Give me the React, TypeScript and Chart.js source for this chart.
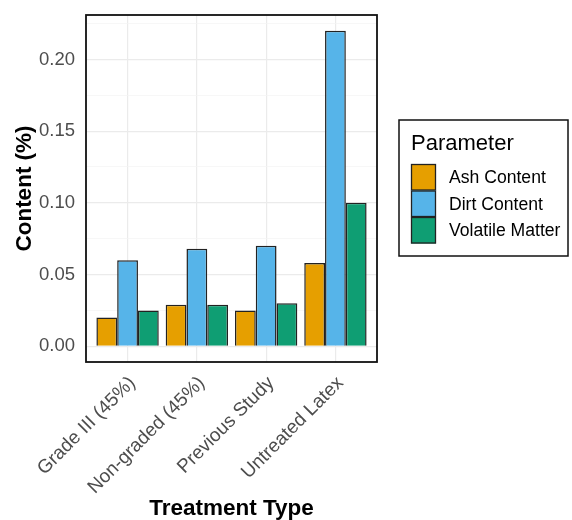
import React, { useEffect, useRef } from "react";
import { Chart, registerables } from "chart.js";

Chart.register(...registerables);

const categories = ["Grade III (45%)", "Non-graded (45%)", "Previous Study", "Untreated Latex"];
const ashContent = [0.02, 0.029, 0.025, 0.058];
const dirtContent = [0.06, 0.068, 0.07, 0.22];
const volatileMatter = [0.025, 0.029, 0.03, 0.1];
const seriesNames = ["Ash Content", "Dirt Content", "Volatile Matter"];
const seriesColors = ["#E69F00", "#56B4E9", "#0F9E73"];
const yTickValues = [0, 0.025, 0.05, 0.075, 0.1, 0.125, 0.15, 0.175, 0.2, 0.225];
const yLabelValues = [0, 0.05, 0.1, 0.15, 0.2];
const legendTitle = "Parameter";
const xTitle = "Treatment Type";
const yTitle = "Content (%)";

const FONT = "'Liberation Sans', Arial, Helvetica, sans-serif";

const isMajorY = (v: number) => yLabelValues.some((m) => Math.abs(m - v) < 1e-9);

const panelBorder = {
  id: "panelBorder",
  afterDatasetsDraw(chart: any) {
    const { ctx, chartArea } = chart;
    ctx.save();
    ctx.strokeStyle = "#111111";
    ctx.lineWidth = 1.8;
    ctx.strokeRect(chartArea.left, chartArea.top, chartArea.right - chartArea.left, chartArea.bottom - chartArea.top);
    ctx.restore();
  },
};

const customLegend = {
  id: "customLegend",
  afterDraw(chart: any) {
    const { ctx } = chart;
    ctx.save();
    ctx.strokeStyle = "#111111";
    ctx.lineWidth = 1.5;
    ctx.strokeRect(399, 120, 169, 136);
    ctx.fillStyle = "#000000";
    ctx.font = `22px ${FONT}`;
    ctx.textAlign = "left";
    ctx.textBaseline = "alphabetic";
    ctx.fillText(legendTitle, 411, 150);
    const keyX = 411;
    const keyW = 25;
    const keyH = 26.5;
    const startY = 164;
    seriesNames.forEach((name, i) => {
      const y = startY + i * keyH;
      ctx.fillStyle = seriesColors[i];
      ctx.fillRect(keyX, y, keyW, keyH);
      ctx.strokeStyle = "#222222";
      ctx.lineWidth = 1.3;
      ctx.strokeRect(keyX + 0.5, y + 0.5, keyW - 1, keyH - 1);
      ctx.fillStyle = "#000000";
      ctx.font = `17.6px ${FONT}`;
      ctx.textBaseline = "middle";
      ctx.fillText(name, 449, y + keyH / 2 + 1);
    });
    ctx.restore();
  },
};

export default function App() {
  const canvasRef = useRef<HTMLCanvasElement | null>(null);

  useEffect(() => {
    const canvas = canvasRef.current;
    if (!canvas) return;
    const seriesValues = [ashContent, dirtContent, volatileMatter];
    const chart = new Chart(canvas, {
      type: "bar",
      data: {
        datasets: seriesNames.map((name, s) => ({
          label: name,
          data: categories.map((_, i) => ({ x: i + 1, y: seriesValues[s][i] })),
          backgroundColor: seriesColors[s],
          borderColor: "#222222",
          borderWidth: 1.5,
          categoryPercentage: 0.9,
          barPercentage: 1.0,
        })),
      },
      options: {
        animation: false,
        responsive: true,
        maintainAspectRatio: false,
        layout: { padding: { top: 15, right: 195, left: 0, bottom: 0 } },
        plugins: {
          legend: { display: false },
          tooltip: { enabled: false },
        },
        scales: {
          x: {
            type: "linear",
            offset: false,
            min: 0.4,
            max: 4.6,
            afterBuildTicks: (scale: any) => {
              scale.ticks = categories.map((_, i) => ({ value: i + 1 }));
            },
            afterFit: (scale: any) => {
              scale.height = 158;
              scale.paddingLeft = 0;
              scale.paddingRight = 0;
            },
            grid: { color: "#EBEBEB", lineWidth: 1.2, drawTicks: false, offset: false },
            border: { display: false },
            ticks: {
              autoSkip: false,
              minRotation: 45,
              maxRotation: 45,
              padding: 10,
              labelOffset: 5,
              color: "#4D4D4D",
              font: { family: FONT, size: 19 },
              callback: (value: any) => categories[Math.round(Number(value)) - 1] ?? "",
            },
            title: {
              display: true,
              text: xTitle,
              color: "#000000",
              font: { family: FONT, size: 22.5, weight: "bold", lineHeight: 1 },
              padding: { top: 0, bottom: 0 },
            },
          },
          y: {
            type: "linear",
            min: -0.011,
            max: 0.231,
            afterBuildTicks: (scale: any) => {
              scale.ticks = yTickValues.map((v) => ({ value: v }));
            },
            afterFit: (scale: any) => {
              scale.width = 86;
              scale.paddingTop = 0;
              scale.paddingBottom = 0;
            },
            grid: {
              drawTicks: false,
              color: (ctx: any) => (ctx.tick && isMajorY(ctx.tick.value) ? "#EBEBEB" : "#F3F3F3"),
              lineWidth: (ctx: any) => (ctx.tick && isMajorY(ctx.tick.value) ? 1.2 : 0.7),
            },
            border: { display: false },
            ticks: {
              padding: 11,
              color: "#4D4D4D",
              font: { family: FONT, size: 18.5 },
              callback: (value: any) => (isMajorY(Number(value)) ? Number(value).toFixed(2) : ""),
            },
            title: {
              display: true,
              text: yTitle,
              color: "#000000",
              font: { family: FONT, size: 22.5, weight: "bold", lineHeight: 1 },
              padding: { top: 13.5, bottom: 0 },
            },
          },
        },
      } as any,
      plugins: [panelBorder, customLegend],
    });
    return () => chart.destroy();
  }, []);

  return (
    <div style={{ position: "fixed", left: 0, top: 0, width: 572, height: 520, background: "#ffffff" }}>
      <canvas ref={canvasRef} />
    </div>
  );
}
